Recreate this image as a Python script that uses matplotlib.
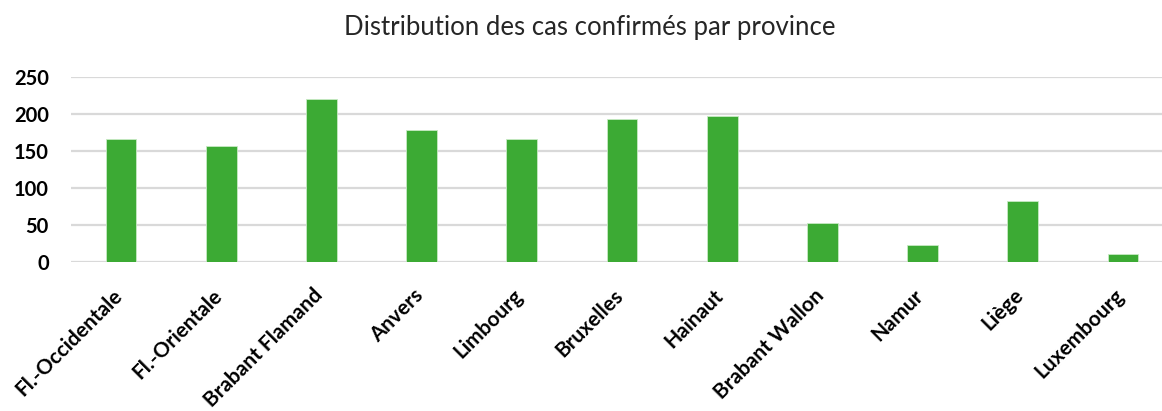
import numpy as np
import matplotlib.pyplot as plt
import matplotlib.transforms as mtransforms

provinces = ['Fl.-Occidentale', 'Fl.-Orientale', 'Brabant Flamand', 'Anvers',
             'Limbourg', 'Bruxelles', 'Hainaut', 'Brabant Wallon', 'Namur',
             'Liège', 'Luxembourg']
cases = [167, 157, 220, 178, 166, 194, 197, 53, 22, 82, 11]
yticks = [0, 50, 100, 150, 200, 250]

plt.rcParams['font.family'] = ['Lato', 'DejaVu Sans']

fig = plt.figure(figsize=(11.62, 4.11), dpi=100)
ax = fig.add_axes([71 / 1162, 149.3 / 411, 1102 / 1162, 184.4 / 411])

x = np.arange(len(provinces))
ax.bar(x, cases, width=0.306, color='#3caa34', edgecolor='#c8eac4',
       linewidth=0.6, zorder=3)

ax.set_xlim(-0.5, len(provinces) - 0.5)
ax.set_ylim(0, 250)
ax.set_yticks(yticks)
ax.set_yticklabels([str(v) for v in yticks], fontsize=14.5, fontweight='bold')
ax.set_xticks(x)
ax.set_xticklabels(provinces, rotation=45, ha='right', rotation_mode='anchor',
                   fontsize=15, fontweight='bold')
ax.tick_params(axis='both', length=0)
ax.tick_params(axis='y', pad=16)
ax.tick_params(axis='x', pad=17)

# nudge the slanted labels a little to the left
shift = mtransforms.ScaledTranslation(-9 / 100, 0, fig.dpi_scale_trans)
for lbl in ax.get_xticklabels():
    lbl.set_transform(lbl.get_transform() + shift)

ax.grid(axis='y', color='#d9d9d9', linewidth=1.6, zorder=0)
for s in ax.spines.values():
    s.set_visible(False)

fig.text(590 / 1162, 1 - 28 / 411, 'Distribution des cas confirmés par province',
         ha='center', va='center', fontsize=18.5, color='#262626')

fig.savefig('out.png', dpi=100)
